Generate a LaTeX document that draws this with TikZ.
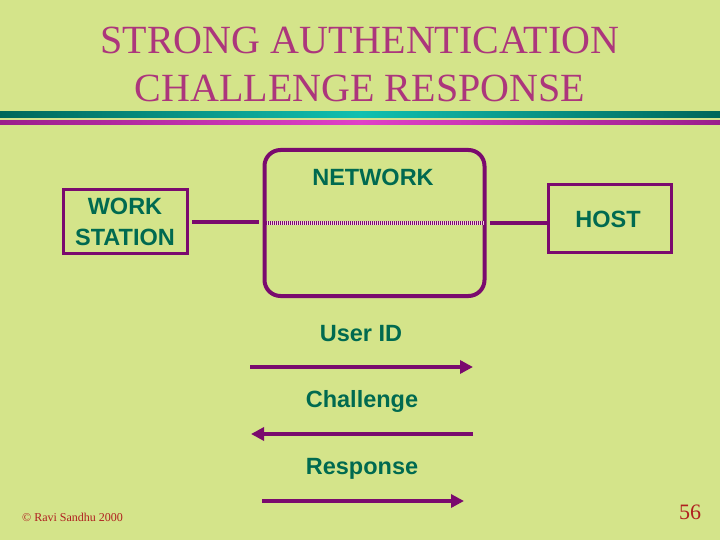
\documentclass[tikz,border=0pt]{standalone}
\usepackage{fontspec}
\setmainfont{Liberation Serif}
\newfontfamily\arialfont{Liberation Sans}
\usetikzlibrary{arrows.meta}
\definecolor{bg}{HTML}{D4E48A}
\definecolor{ttl}{HTML}{AC367C}
\definecolor{pur}{HTML}{7A0A6E}
\definecolor{txt}{HTML}{006A50}
\definecolor{tealD}{HTML}{00665A}
\definecolor{tealL}{HTML}{10C0B0}
\definecolor{magD}{HTML}{9A1E8C}
\definecolor{magL}{HTML}{E040C8}
\definecolor{cpy}{HTML}{B02020}
\definecolor{pinkL}{HTML}{F4D0E0}
\tikzset{
  boxnode/.style={draw=pur, line width=3pt, text=txt, font=\arialfont\bfseries\fontsize{23.5}{31}\selectfont, align=center, inner sep=0pt},
  lbl/.style={text=txt, font=\arialfont\bfseries\fontsize{23.5}{28}\selectfont, inner sep=0pt},
  link/.style={draw=pur, line width=3.5pt},
  msg/.style={draw=pur, line width=4pt, -{Triangle[length=13pt,width=13pt]}},
}
\begin{document}
\begin{tikzpicture}[x=1pt,y=-1pt]
\fill[bg] (0,0) rectangle (720,540);
\useasboundingbox (0,0) rectangle (720,540);
% title
\node[text=ttl, font=\fontsize{40}{48}\selectfont, align=center] (title) at (360,64) {STRONG AUTHENTICATION\\CHALLENGE RESPONSE};
% bars
\shade[left color=tealD, right color=tealD, middle color=tealL] (0,112) rectangle (720,118);
\shade[left color=magD, right color=magD, middle color=magL] (0,121) rectangle (720,125);
% boxes
\node[boxnode, minimum width=124pt, minimum height=63pt] (ws) at (125,221.5) {};
\node[lbl, align=center, font=\arialfont\bfseries\fontsize{23.5}{31}\selectfont] (wst) at (125,222) {WORK\\STATION};
\node[boxnode, minimum width=123pt, minimum height=68pt] (host) at (610,218.5) {};
\node[lbl] (hostt) at (608,219) {HOST};
\node[draw=pur, line width=4pt, rounded corners=16pt, minimum width=220pt, minimum height=146pt, inner sep=0pt] (net) at (374.5,223) {};
\node[lbl] (nett) at (373,177) {NETWORK};
% links
\coordinate (wsR) at (192,222);
\coordinate (netL) at (259,222);
\coordinate (netR) at (490,223);
\draw[link] (wsR) -- (netL);
\draw[link] (netR) -- (netR -| host.west);
\coordinate (dl) at ([xshift=3pt]net.west);
\coordinate (dr) at ([xshift=-3pt]net.east);
\draw[draw=pinkL, line width=3.5pt] (dl) -- (dr);
\draw[draw=pur, line width=3.5pt, dash pattern=on 1pt off 1pt] (dl) -- (dr);
% messages
\node[lbl] (uid) at (361,334) {User ID};
\node[lbl] (chal) at (362,401) {Challenge};
\node[lbl] (resp) at (362,469) {Response};
\coordinate (a1s) at (250,367); \coordinate (a1e) at (473,367);
\coordinate (a2s) at (473,434); \coordinate (a2e) at (251,434);
\coordinate (a3s) at (262,501); \coordinate (a3e) at (464,501);
\draw[msg] (a1s) -- (a1e);
\draw[msg] (a2s) -- (a2e);
\draw[msg] (a3s) -- (a3e);
% footer
\node[text=cpy, font=\fontsize{12}{14}\selectfont, anchor=west, inner sep=0pt] (copy) at (22,517) {© Ravi Sandhu 2000};
\node[text=cpy, font=\fontsize{22}{26}\selectfont, inner sep=0pt] (page) at (690,512) {56};
\end{tikzpicture}
\end{document}
